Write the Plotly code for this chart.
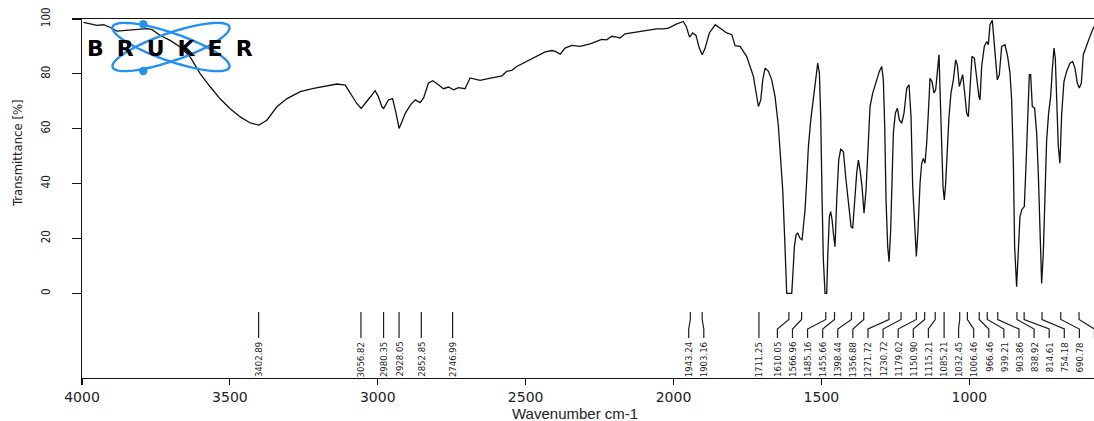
import numpy as np
import plotly.graph_objects as go

# ---------------- data ----------------
wavenumber = [
    3995, 3972, 3949, 3927, 3904, 3882, 3848, 3814, 3780, 3763, 3735, 3702, 3668, 3634, 3600,
    3566, 3533, 3499, 3465, 3431, 3402, 3375, 3341, 3307, 3262, 3217, 3172, 3138, 3110, 3093,
    3071, 3056, 3037, 3020, 3009, 2998, 2986, 2980, 2964, 2950, 2938, 2928, 2918, 2907, 2890,
    2873, 2857, 2845, 2829, 2814, 2795, 2778, 2761, 2744, 2727, 2705, 2688, 2671, 2654, 2631,
    2603, 2580, 2564, 2547, 2530, 2496, 2462, 2434, 2411, 2400, 2383, 2367, 2344, 2316, 2282,
    2259, 2243, 2226, 2209, 2192, 2181, 2164, 2136, 2107, 2079, 2057, 2034, 2017, 1989, 1967,
    1957, 1946, 1935, 1924, 1913, 1903, 1893, 1879, 1859, 1843, 1820, 1803, 1792,
    1775, 1752.5, 1730, 1718.7, 1713, 1705, 1698.4, 1690.5, 1679, 1668, 1656.7, 1645.4, 1637.6,
    1630.8, 1624, 1617.3, 1608.3, 1600.4, 1597, 1591.4, 1585.7, 1580, 1572, 1565.5, 1561,
    1555.3, 1549.7, 1544, 1536, 1527, 1518, 1512.5, 1506.9, 1502.4, 1497.9, 1493.4, 1487.7,
    1482.1, 1478.7, 1473.1, 1468.6, 1464, 1459.6, 1454, 1448.3, 1441.5, 1434.8, 1425.8,
    1416.8, 1408.9, 1399.8, 1394.2, 1387.5, 1380.7, 1375, 1369.4, 1362.7, 1355.9, 1349.1,
    1342.4, 1335.6, 1326.6, 1315.3, 1304.1, 1296.2, 1290.6, 1286, 1281.5, 1275.9, 1271.4,
    1265.8, 1261.3, 1256.8, 1250, 1243.2, 1236.5, 1228.6, 1220.7, 1211.7, 1203.8, 1197,
    1191.4, 1184.6, 1179, 1173.4, 1166.6, 1161, 1155.4, 1149.7, 1144.1, 1138.5, 1132.8,
    1126.1, 1119.3, 1113.7, 1108, 1102.4, 1097.9, 1093.4, 1088.9, 1084.4, 1079.9, 1074.3,
    1068.6, 1061.9, 1054, 1046.1, 1040.5, 1033.7, 1028.1, 1022.4, 1016.8, 1008.9, 1003.3,
    997.6, 990.9, 983, 975.1, 967.3, 963.8, 958.2, 949.2, 941.3, 935.7, 930, 922.2, 916.5,
    910.9, 905.3, 898.5, 890.6, 879.4, 870.4, 862.5, 856.8, 851.2, 846.7, 840, 834.3, 828.7,
    821.9, 814, 808.4, 802.8, 797.1, 792.6, 787, 779.1, 772.3, 766.7, 761, 755.4, 749.8,
    744.2, 738.5, 731.8, 725, 719.4, 713.7, 709.2, 704.7, 699.1, 693.5, 687.8, 680, 671,
    659.7, 650.7, 642.8, 634.9, 628.1, 621.3, 614.6, 601, 589.8, 578.5,
]
transmittance = [
    98.8, 98.3, 97.7, 97.9, 96.9, 95.6, 95.9, 96.1, 96.5, 96.1, 94.0, 92.2, 89.8, 86.1, 80.0,
    75.2, 70.9, 67.3, 64.3, 62.1, 61.3, 63.1, 68.0, 71.0, 73.5, 74.7, 75.7, 76.3, 75.9, 72.9,
    69.2, 67.4, 69.8, 72.3, 73.9, 71.7, 68.0, 67.4, 70.5, 71.0, 65.6, 60.1, 62.6, 65.6, 68.6,
    70.5, 69.5, 71.2, 76.6, 77.5, 76.0, 74.6, 75.2, 74.2, 75.0, 74.6, 78.5, 78.1, 77.6, 78.2,
    78.7, 79.3, 80.9, 81.3, 82.7, 84.5, 86.6, 88.0, 88.5, 88.2, 87.2, 89.4, 90.4, 90.0, 90.9,
    91.8, 92.6, 92.4, 93.7, 93.4, 93.1, 94.6, 95.1, 95.5, 95.9, 96.4, 96.4, 96.7, 98.2, 99.1,
    97.3, 93.4, 94.9, 94.0, 89.4, 87.0, 89.4, 94.9, 97.9, 96.7, 94.9, 94.3, 90.3,
    90.0, 86.3, 79.1, 71.7, 68.1, 70.5, 77.8, 82.1, 80.9, 77.8, 71.7, 60.8, 49.9,
    37.7, 19.4, 0.0, 0.0, 0.0, 6.0, 17.0, 21.3, 21.9, 20.0, 19.4, 24.3,
    30.4, 41.3, 53.5, 63.2, 70.5, 79.1, 83.9, 80.3, 64.4, 35.3, 12.1, 0.0,
    0.0, 13.3, 28.0, 29.8, 26.8, 21.9, 17.0, 34.0, 48.6, 52.5, 51.7,
    41.3, 34.0, 24.3, 23.7, 34.0, 43.8, 48.6, 45.0, 38.9, 29.2, 37.7,
    54.7, 68.1, 73.0, 77.2, 80.9, 82.7, 77.8, 60.8, 34.0, 17.0, 11.5,
    23.1, 38.9, 58.4, 65.7, 67.5, 63.2, 62.0, 65.7, 74.8, 76.0, 64.4,
    38.9, 24.3, 13.4, 23.1, 40.1, 47.4, 49.2, 47.4, 54.7, 65.7, 78.4,
    77.2, 73.0, 74.2, 81.5, 87.0, 70.5, 49.9, 38.9, 34.0, 40.1, 52.3,
    64.4, 73.0, 77.8, 85.1, 83.3, 75.4, 77.8, 79.7, 74.2, 65.7, 64.4,
    75.4, 86.4, 85.7, 77.8, 71.7, 70.5, 82.7, 90.0, 91.8, 90.6, 97.9, 99.5, 91.2,
    82.7, 77.8, 79.7, 90.0, 90.6, 86.4, 80.3, 70.5, 48.6, 17.0, 2.4, 14.6, 28.0,
    30.6, 31.6, 46.2, 65.7, 79.7, 79.7, 68.1, 67.5, 58.4, 43.8, 21.9, 3.6, 14.6,
    38.9, 55.9, 65.7, 71.7, 81.5, 89.4, 85.7, 70.5, 53.5, 47.4, 65.1, 77.2, 80.9,
    83.9, 84.5, 82.1, 76.6, 74.8, 76.6, 87.0, 91.2, 94.3, 97.3,
]
peak_wavenumbers = [
    3402.89, 3056.82, 2980.35, 2928.05, 2852.85, 2746.99, 1943.24, 1903.16, 1711.25,
    1610.05, 1566.96, 1485.16, 1455.66, 1398.44, 1356.88, 1271.72, 1230.72, 1179.02,
    1150.90, 1115.21, 1085.21, 1032.45, 1006.46, 966.46, 939.21, 903.86, 838.92,
    814.61, 754.18, 690.78, 628.96,
]
peak_labels = [f"{p:.2f}" for p in peak_wavenumbers]
x_tick_values = [4000, 3500, 3000, 2500, 2000, 1500, 1000]
y_tick_values = [0, 20, 40, 60, 80, 100]
x_title = "Wavenumber cm-1"
y_title = "Transmittance [%]"
logo_text = "BRUKER"

# ---------------- geometry ----------------
W, H = 1094, 421
ML, MR, MT, MB = 82, 0, 19, 43
SX = (969.3 - ML) / 3000.0            # px per cm-1
X_LEFT = 4000.0
X_RIGHT = X_LEFT - (W - MR - ML) / SX
Y_TOP = 100.0
SY = (293.3 - MT) / 100.0             # px per %
Y_BOTTOM = Y_TOP - (H - MB - MT) / SY


def px_to_x(px):
    return X_LEFT - (px - ML) / SX


def x_to_px(x):
    return ML + (X_LEFT - x) * SX


def py_to_y(py):
    return Y_TOP - (py - MT) / SY


LABEL_FONT = "Liberation Sans Narrow, DejaVu Sans Condensed, Liberation Sans, Arial"
INK = "#1e1e1e"

fig = go.Figure()
fig.add_trace(go.Scatter(x=wavenumber, y=transmittance, mode="lines",
                         line=dict(color="#111111", width=1.3), hoverinfo="skip",
                         showlegend=False))

# ---------------- peak labels: spread clusters ----------------
GAP = 15.1
targets = [x_to_px(p) for p in peak_wavenumbers]
clusters = [[i] for i in range(len(targets))]


def place(cl):
    c = float(np.mean([targets[i] for i in cl]))
    n = len(cl)
    return [c + (k - (n - 1) / 2.0) * GAP for k in range(n)]


changed = True
while changed:
    changed = False
    for j in range(len(clusters) - 1):
        a, b = place(clusters[j]), place(clusters[j + 1])
        if a[-1] + GAP > b[0] + 0.01:
            clusters[j] = clusters[j] + clusters[j + 1]
            del clusters[j + 1]
            changed = True
            break
label_px = []
for cl in clusters:
    label_px += place(cl)

shapes = []
annotations = []
Y_L0, Y_L1, Y_L2, Y_L3, Y_TXT = 312, 319.5, 329, 338, 341
for p_px, l_px, txt in zip(targets, label_px, peak_labels):
    xp, xl = px_to_x(p_px), px_to_x(l_px)
    if abs(p_px - l_px) < 0.8:
        path = f"M {xp},{py_to_y(Y_L0)} L {xp},{py_to_y(Y_L3)}"
    else:
        path = (f"M {xp},{py_to_y(Y_L0)} L {xp},{py_to_y(Y_L1)} "
                f"L {xl},{py_to_y(Y_L2)} L {xl},{py_to_y(Y_L3)}")
    shapes.append(dict(type="path", path=path, xref="x", yref="y",
                       line=dict(color=INK, width=1.2)))
    annotations.append(dict(x=xl, y=py_to_y(Y_TXT), xref="x", yref="y", text=txt,
                            textangle=-90, showarrow=False, xanchor="center",
                            yanchor="top", borderpad=0,
                            font=dict(family=LABEL_FONT, size=9.5, color=INK)))

# ---------------- logo ----------------
BLUE = "#2390f5"
cx, cy, ea, eb, phi = 171.0, 47.0, 61.0, 17.0, np.radians(17.0)
tt = np.linspace(0, 2 * np.pi, 90)
for sgn in (1, -1):
    xs = cx + ea * np.cos(tt) * np.cos(phi) - eb * np.sin(tt) * np.sin(phi) * sgn
    ys = cy - sgn * ea * np.cos(tt) * np.sin(phi) + eb * np.sin(tt) * np.cos(phi)
    pts = [f"{px_to_x(a)},{py_to_y(b)}" for a, b in zip(xs, ys)]
    shapes.append(dict(type="path", path="M " + " L ".join(pts) + " Z", xref="x", yref="y",
                       line=dict(color=BLUE, width=2.4)))
for dx, dy in ((143.3, 24.3), (143.3, 71.0)):
    r = 4.2
    shapes.append(dict(type="circle", xref="x", yref="y",
                       x0=px_to_x(dx - r), x1=px_to_x(dx + r),
                       y0=py_to_y(dy + r), y1=py_to_y(dy - r),
                       fillcolor=BLUE, line=dict(color=BLUE, width=0)))
annotations.append(dict(x=px_to_x(85), y=py_to_y(48.5), xref="x", yref="y",
                        text=f'<span style="letter-spacing:13px">{logo_text}</span>',
                        showarrow=False, xanchor="left", yanchor="middle",
                        font=dict(family="DejaVu Sans", size=22, color="#000000",
                                  weight="bold")))

# ---------------- titles ----------------
annotations.append(dict(x=(17 - ML) / (W - ML - MR), y=(H - MB - 153) / (H - MB - MT),
                        xref="paper", yref="paper", text=y_title, textangle=-90,
                        showarrow=False, xanchor="center", yanchor="middle",
                        font=dict(family=LABEL_FONT, size=13, color="#222222")))
annotations.append(dict(x=(575 - ML) / (W - ML - MR), y=(H - MB - 413) / (H - MB - MT),
                        xref="paper", yref="paper", text=x_title, showarrow=False,
                        xanchor="center", yanchor="middle",
                        font=dict(family="Liberation Sans, Arial", size=15,
                                  color="#222222")))

fig.update_layout(
    width=W, height=H,
    margin=dict(l=ML, r=MR, t=MT, b=MB, pad=0),
    paper_bgcolor="white", plot_bgcolor="white",
    showlegend=False,
    shapes=shapes, annotations=annotations,
    xaxis=dict(range=[X_LEFT, X_RIGHT], tickvals=x_tick_values,
               ticks="outside", ticklen=6, tickwidth=1.2, tickcolor="#111111",
               showline=True, linecolor="#111111", linewidth=1.2, mirror=True,
               showgrid=False, zeroline=False,
               tickfont=dict(family="DejaVu Sans", size=14, color="#222222")),
    yaxis=dict(range=[Y_BOTTOM, Y_TOP], tickvals=y_tick_values,
               ticks="outside", ticklen=9, tickwidth=1.2, tickcolor="#111111",
               showline=True, linecolor="#111111", linewidth=1.2,
               showgrid=False, zeroline=False, tickangle=-90,
               ticklabelstandoff=17,
               tickfont=dict(family=LABEL_FONT, size=11.5, color="#222222")),
)

page_fix = ("document.documentElement.style.margin='0';"
            "document.documentElement.style.overflow='hidden';"
            "document.body.style.margin='0';document.body.style.padding='0';"
            "document.body.style.overflow='hidden';")
fig.write_html("out.html", post_script=page_fix,
               config={"displayModeBar": False, "staticPlot": True})
